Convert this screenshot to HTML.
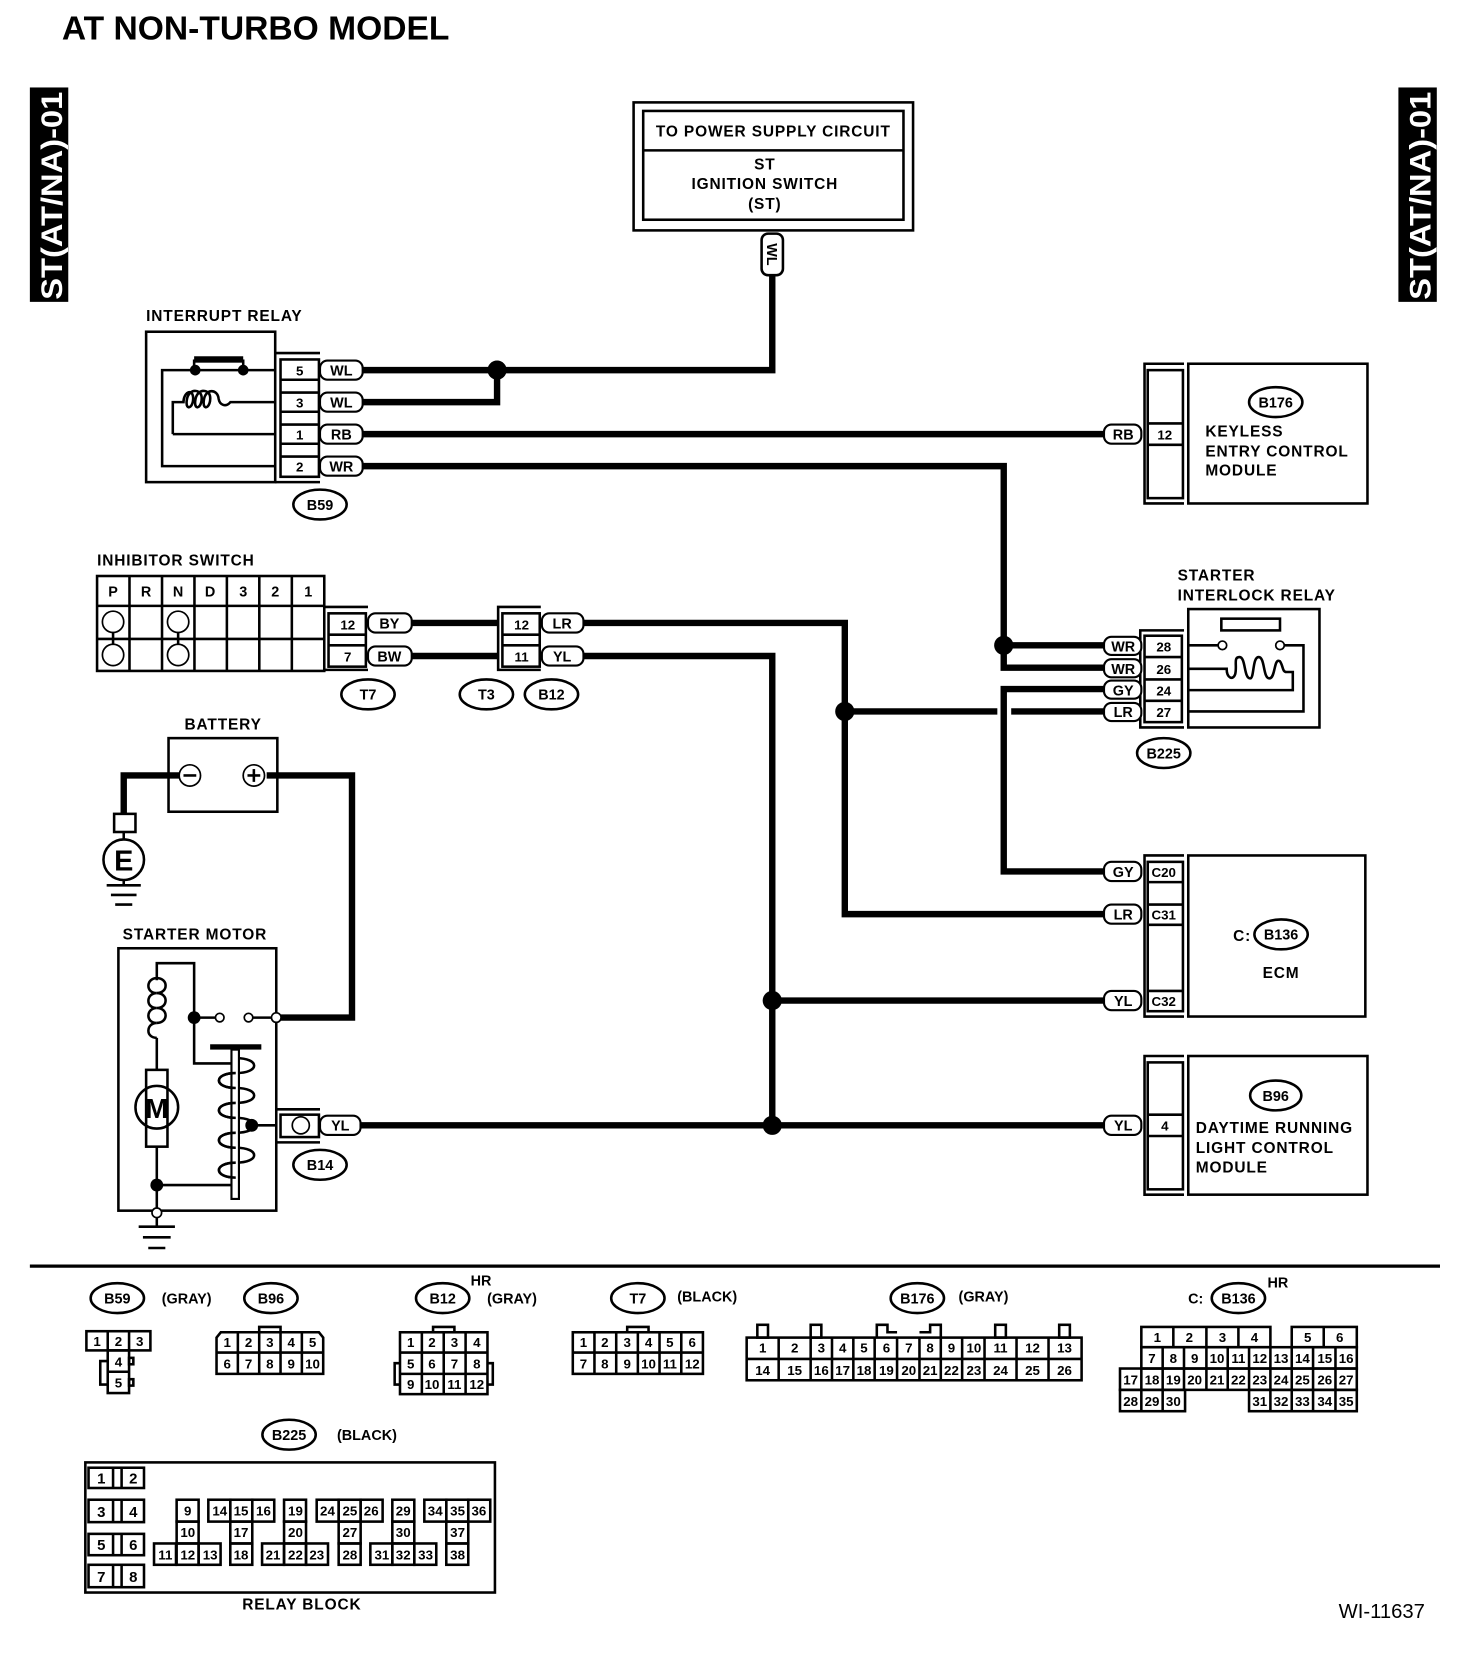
<!DOCTYPE html>
<html><head><meta charset="utf-8"><style>
html,body{margin:0;padding:0;background:#fff}
svg{display:block}
text{font-family:"Liberation Sans",sans-serif;font-weight:bold;fill:#000}
.t{font-size:14.5px;letter-spacing:0.8px}
.n{font-size:12.5px;font-weight:bold}
.tg{font-size:13.5px}
.th{fill:none;stroke:#000;stroke-width:2.4}
.w{fill:none;stroke:#000;stroke-width:6}
.c{fill:#fff;stroke:#000;stroke-width:1.6}
</style></head><body>
<svg width="1472" height="1672" viewBox="0 0 1380 1567.5" xmlns="http://www.w3.org/2000/svg">
<!-- Title -->
<text x="58" y="37" style="font-size:31.5px">AT NON-TURBO MODEL</text>
<!-- side tabs -->
<rect x="28" y="82" width="36" height="201" fill="#000"/>
<text transform="translate(58,281) rotate(-90)" textLength="195" lengthAdjust="spacingAndGlyphs" style="font-size:28px;fill:#fff">ST(AT/NA)-01</text>
<rect x="1311" y="82" width="36" height="201" fill="#000"/>
<text transform="translate(1341,281) rotate(-90)" textLength="195" lengthAdjust="spacingAndGlyphs" style="font-size:28px;fill:#fff">ST(AT/NA)-01</text>

<!-- power supply box -->
<rect x="594" y="96" width="262" height="120" class="th" stroke-width="3"/>
<rect x="603" y="104" width="244" height="102" class="th"/>
<line x1="603" y1="141" x2="847" y2="141" class="th"/>
<text x="725" y="128" text-anchor="middle" class="t">TO POWER SUPPLY CIRCUIT</text>
<text x="717" y="159" text-anchor="middle" class="t">ST</text>
<text x="717" y="177" text-anchor="middle" class="t">IGNITION SWITCH</text>
<text x="717" y="196" text-anchor="middle" class="t">(ST)</text>
<rect x="714" y="219" width="20" height="39" rx="6" class="th" fill="#fff"/>
<text transform="translate(719,228) rotate(90)" class="tg">WL</text>

<!-- wires -->
<polyline class="w" points="724,258 724,347 340,347"/>
<polyline class="w" points="340,377 466,377 466,347"/>
<line class="w" x1="340" y1="407" x2="1035" y2="407"/>
<polyline class="w" points="340,437 941,437 941,626 1035,626"/>
<line class="w" x1="941" y1="605" x2="1035" y2="605"/>
<polyline class="w" points="1035,646 941,646 941,817 1035,817"/>
<polyline class="w" points="547,584 792,584 792,857 1035,857"/>
<line class="w" x1="792" y1="667" x2="935" y2="667"/>
<line class="w" x1="948" y1="667" x2="1035" y2="667"/>
<polyline class="w" points="547,615 724,615 724,1055"/>
<line class="w" x1="724" y1="938" x2="1035" y2="938"/>
<line class="w" x1="338" y1="1055" x2="1035" y2="1055"/>
<line class="w" x1="386" y1="584" x2="467" y2="584"/>
<line class="w" x1="386" y1="615" x2="467" y2="615"/>
<circle cx="466" cy="347" r="9"/>
<circle cx="941" cy="605" r="9"/>
<circle cx="792" cy="667" r="9"/>
<circle cx="724" cy="938" r="9"/>
<circle cx="724" cy="1055" r="9"/>

<!-- interrupt relay -->
<text x="137" y="301" class="t">INTERRUPT RELAY</text>
<rect x="137" y="311" width="121" height="141" class="th"/>
<polyline class="th" points="258,347 152,347 152,437 258,437"/>
<rect x="182" y="334" width="46" height="6" fill="#000"/>
<line class="th" x1="182" y1="337" x2="182" y2="347"/><line class="th" x1="228" y1="337" x2="228" y2="347"/>
<circle cx="183" cy="347" r="5"/><circle cx="228" cy="347" r="5"/>
<path class="th" d="M162,407 L162,377 L172,377 C172,368 180,364 181,372 C182,382 174,386 175,376 C176,364 188,364 189,372 C190,382 182,386 183,376 C184,364 196,364 197,372 C198,382 190,386 191,376 C192,364 204,364 205,374 C206,380 212,382 216,377 L258,377"/>
<line class="th" x1="162" y1="407" x2="258" y2="407"/>
<polyline class="th" points="258,331 300,331"/><polyline class="th" points="258,452 300,452"/>
<rect x="263" y="337" width="36" height="110" class="th"/>
<g class="th"><line x1="263" y1="356" x2="299" y2="356"/><line x1="263" y1="368" x2="299" y2="368"/><line x1="263" y1="386" x2="299" y2="386"/><line x1="263" y1="398" x2="299" y2="398"/><line x1="263" y1="416" x2="299" y2="416"/><line x1="263" y1="428" x2="299" y2="428"/></g>
<text x="281" y="352" text-anchor="middle" class="n">5</text>
<text x="281" y="382" text-anchor="middle" class="n">3</text>
<text x="281" y="412" text-anchor="middle" class="n">1</text>
<text x="281" y="442" text-anchor="middle" class="n">2</text>
<g fill="#fff" stroke="#000" stroke-width="2">
<rect x="300" y="338" width="40" height="18" rx="7"/><rect x="300" y="368" width="40" height="18" rx="7"/>
<rect x="300" y="398" width="40" height="18" rx="7"/><rect x="300" y="428" width="40" height="18" rx="7"/>
</g>
<text x="320" y="352" text-anchor="middle" class="tg">WL</text>
<text x="320" y="382" text-anchor="middle" class="tg">WL</text>
<text x="320" y="412" text-anchor="middle" class="tg">RB</text>
<text x="320" y="442" text-anchor="middle" class="tg">WR</text>
<ellipse cx="300" cy="473" rx="25" ry="14" class="th"/>
<text x="300" y="478" text-anchor="middle" class="tg">B59</text>

<!-- keyless -->
<g fill="#fff" stroke="#000" stroke-width="2"><rect x="1035" y="398" width="35" height="18" rx="7"/></g>
<text x="1053" y="412" text-anchor="middle" class="tg">RB</text>
<polyline class="th" points="1110,341 1073,341 1073,472 1110,472"/>
<rect x="1076" y="347" width="33" height="120" class="th"/>
<line class="th" x1="1076" y1="397" x2="1109" y2="397"/><line class="th" x1="1076" y1="417" x2="1109" y2="417"/>
<text x="1092" y="412" text-anchor="middle" class="n">12</text>
<rect x="1114" y="341" width="168" height="131" class="th"/>
<ellipse cx="1196" cy="377" rx="25" ry="14" class="th"/>
<text x="1196" y="382" text-anchor="middle" class="tg">B176</text>
<text x="1130" y="409" class="t">KEYLESS</text>
<text x="1130" y="428" class="t">ENTRY CONTROL</text>
<text x="1130" y="446" class="t">MODULE</text>

<!-- starter interlock relay -->
<text x="1104" y="544" class="t">STARTER</text>
<text x="1104" y="563" class="t">INTERLOCK RELAY</text>
<rect x="1114" y="571" width="123" height="111" class="th"/>
<rect x="1145" y="580" width="55" height="11" class="th"/>
<circle cx="1146" cy="605" r="4" class="c" stroke-width="2.4"/><circle cx="1200" cy="605" r="4" class="c" stroke-width="2.4"/>
<polyline class="th" points="1114,605 1142,605"/>
<polyline class="th" points="1204,605 1222,605 1222,667 1114,667"/>
<path class="th" d="M1114,627 L1150,627 C1150,636 1156,638 1158,632 C1160,624 1156,616 1162,616 C1168,616 1166,636 1172,636 C1176,636 1174,616 1180,616 C1186,616 1184,636 1190,636 C1196,636 1194,616 1200,620 C1203,624 1202,630 1206,630 L1212,630 L1212,647 L1114,647"/>
<polyline class="th" points="1110,591 1069,591 1069,682 1110,682"/>
<rect x="1073" y="596" width="35" height="81" class="th"/>
<g class="th"><line x1="1073" y1="616" x2="1108" y2="616"/><line x1="1073" y1="637" x2="1108" y2="637"/><line x1="1073" y1="657" x2="1108" y2="657"/></g>
<text x="1091" y="611" text-anchor="middle" class="n">28</text>
<text x="1091" y="632" text-anchor="middle" class="n">26</text>
<text x="1091" y="652" text-anchor="middle" class="n">24</text>
<text x="1091" y="672" text-anchor="middle" class="n">27</text>
<g fill="#fff" stroke="#000" stroke-width="2">
<rect x="1035" y="597" width="35" height="17" rx="7"/><rect x="1035" y="618" width="35" height="17" rx="7"/>
<rect x="1035" y="638" width="35" height="17" rx="7"/><rect x="1035" y="659" width="35" height="17" rx="7"/>
</g>
<text x="1053" y="611" text-anchor="middle" class="tg">WR</text>
<text x="1053" y="632" text-anchor="middle" class="tg">WR</text>
<text x="1053" y="652" text-anchor="middle" class="tg">GY</text>
<text x="1053" y="672" text-anchor="middle" class="tg">LR</text>
<ellipse cx="1091" cy="706" rx="25" ry="14" class="th"/>
<text x="1091" y="711" text-anchor="middle" class="tg">B225</text>

<!-- ECM -->
<polyline class="th" points="1110,802 1073,802 1073,953 1110,953"/>
<rect x="1076" y="808" width="33" height="140" class="th"/>
<g class="th"><line x1="1076" y1="827" x2="1109" y2="827"/><line x1="1076" y1="848" x2="1109" y2="848"/><line x1="1076" y1="867" x2="1109" y2="867"/><line x1="1076" y1="929" x2="1109" y2="929"/></g>
<text x="1091" y="822" text-anchor="middle" class="n">C20</text>
<text x="1091" y="862" text-anchor="middle" class="n">C31</text>
<text x="1091" y="943" text-anchor="middle" class="n">C32</text>
<rect x="1114" y="802" width="166" height="151" class="th"/>
<g fill="#fff" stroke="#000" stroke-width="2">
<rect x="1035" y="808" width="35" height="18" rx="7"/><rect x="1035" y="848" width="35" height="18" rx="7"/><rect x="1035" y="929" width="35" height="18" rx="7"/>
</g>
<text x="1053" y="822" text-anchor="middle" class="tg">GY</text>
<text x="1053" y="862" text-anchor="middle" class="tg">LR</text>
<text x="1053" y="943" text-anchor="middle" class="tg">YL</text>
<text x="1156" y="882" class="t">C:</text>
<ellipse cx="1201" cy="876" rx="25" ry="14" class="th"/>
<text x="1201" y="881" text-anchor="middle" class="tg">B136</text>
<text x="1201" y="917" text-anchor="middle" class="t">ECM</text>

<!-- DRL -->
<polyline class="th" points="1110,990 1073,990 1073,1120 1110,1120"/>
<rect x="1076" y="996" width="33" height="119" class="th"/>
<line class="th" x1="1076" y1="1045" x2="1109" y2="1045"/><line class="th" x1="1076" y1="1065" x2="1109" y2="1065"/>
<text x="1092" y="1060" text-anchor="middle" class="n">4</text>
<rect x="1114" y="990" width="168" height="130" class="th"/>
<g fill="#fff" stroke="#000" stroke-width="2"><rect x="1035" y="1046" width="35" height="18" rx="7"/></g>
<text x="1053" y="1060" text-anchor="middle" class="tg">YL</text>
<ellipse cx="1196" cy="1027" rx="24" ry="14" class="th"/>
<text x="1196" y="1032" text-anchor="middle" class="tg">B96</text>
<text x="1121" y="1062" class="t">DAYTIME RUNNING</text>
<text x="1121" y="1081" class="t">LIGHT CONTROL</text>
<text x="1121" y="1099" class="t">MODULE</text>

<!-- inhibitor switch -->
<text x="91" y="530" class="t">INHIBITOR SWITCH</text>
<rect x="91" y="540" width="213" height="89" class="th"/>
<g class="th">
<line x1="91" y1="568" x2="304" y2="568"/><line x1="91" y1="599" x2="304" y2="599"/>
<line x1="121.4" y1="540" x2="121.4" y2="629"/><line x1="151.9" y1="540" x2="151.9" y2="629"/><line x1="182.3" y1="540" x2="182.3" y2="629"/>
<line x1="212.7" y1="540" x2="212.7" y2="629"/><line x1="243.1" y1="540" x2="243.1" y2="629"/><line x1="273.6" y1="540" x2="273.6" y2="629"/>
<line x1="106" y1="590" x2="106" y2="608"/><line x1="167" y1="590" x2="167" y2="608"/>
</g>
<g class="c" stroke-width="2.2"><circle cx="106" cy="583" r="10"/><circle cx="106" cy="614" r="10"/><circle cx="167" cy="583" r="10"/><circle cx="167" cy="614" r="10"/></g>
<g class="tg" text-anchor="middle">
<text x="106" y="559">P</text><text x="137" y="559">R</text><text x="167" y="559">N</text><text x="197" y="559">D</text><text x="228" y="559">3</text><text x="258" y="559">2</text><text x="289" y="559">1</text>
</g>
<!-- T7 connector -->
<polyline class="th" points="304,569 345,569"/><polyline class="th" points="304,628 345,628"/>
<rect x="308" y="575" width="35" height="50" class="th"/>
<line class="th" x1="308" y1="595" x2="343" y2="595"/><line class="th" x1="308" y1="605" x2="343" y2="605"/>
<text x="326" y="590" text-anchor="middle" class="n">12</text>
<text x="326" y="620" text-anchor="middle" class="n">7</text>
<g fill="#fff" stroke="#000" stroke-width="2"><rect x="345" y="575" width="41" height="18" rx="7"/><rect x="345" y="606" width="41" height="18" rx="7"/></g>
<text x="365" y="589" text-anchor="middle" class="tg">BY</text>
<text x="365" y="620" text-anchor="middle" class="tg">BW</text>
<!-- B12 connector -->
<polyline class="th" points="507,569 467,569 467,628 507,628"/>
<rect x="471" y="575" width="35" height="50" class="th"/>
<line class="th" x1="471" y1="595" x2="506" y2="595"/><line class="th" x1="471" y1="605" x2="506" y2="605"/>
<text x="489" y="590" text-anchor="middle" class="n">12</text>
<text x="489" y="620" text-anchor="middle" class="n">11</text>
<g fill="#fff" stroke="#000" stroke-width="2"><rect x="508" y="575" width="39" height="18" rx="7"/><rect x="508" y="606" width="39" height="18" rx="7"/></g>
<text x="527" y="589" text-anchor="middle" class="tg">LR</text>
<text x="527" y="620" text-anchor="middle" class="tg">YL</text>
<ellipse cx="345" cy="651" rx="25" ry="14" class="th"/><text x="345" y="656" text-anchor="middle" class="tg">T7</text>
<ellipse cx="456" cy="651" rx="25" ry="14" class="th"/><text x="456" y="656" text-anchor="middle" class="tg">T3</text>
<ellipse cx="517" cy="651" rx="25" ry="14" class="th"/><text x="517" y="656" text-anchor="middle" class="tg">B12</text>

<!-- battery -->
<text x="173" y="684" class="t">BATTERY</text>
<rect x="158" y="692" width="102" height="69" class="th"/>
<circle cx="178" cy="727" r="10" class="c" stroke-width="2.2"/><line class="th" x1="172" y1="727" x2="184" y2="727"/>
<circle cx="238" cy="727" r="10" class="c" stroke-width="2.2"/><line class="th" x1="232" y1="727" x2="244" y2="727"/><line class="th" x1="238" y1="721" x2="238" y2="733"/>
<polyline class="w" points="168,727 116,727 116,764"/>
<rect x="107" y="763" width="20" height="17" class="th" fill="#fff"/>
<line class="th" x1="116" y1="780" x2="116" y2="787"/>
<circle cx="116" cy="806" r="19" class="th" stroke-width="3"/>
<text x="116" y="816" text-anchor="middle" style="font-size:27px">E</text>
<g class="th"><line x1="116" y1="825" x2="116" y2="830"/><line x1="100" y1="830" x2="132" y2="830"/><line x1="104" y1="839" x2="128" y2="839"/><line x1="108" y1="848" x2="124" y2="848"/></g>
<polyline class="w" points="250,727 330,727 330,954 262,954"/>

<!-- starter motor -->
<text x="115" y="881" class="t">STARTER MOTOR</text>
<rect x="111" y="889" width="148" height="246" class="th"/>
<polyline class="th" points="147,919 147,903 182,903 182,997 219,997"/>
<path class="th" d="M147,917 C137,917 136,931 147,931 C137,931 136,945 147,945 C137,945 136,959 147,959 C137,959 136,973 147,973"/>
<path class="th" d="M147,917 C158,917 158,931 147,931 M147,931 C158,931 158,945 147,945 M147,945 C158,945 158,959 147,959"/>
<line class="th" x1="147" y1="973" x2="147" y2="1003"/>
<rect x="137" y="1003" width="20" height="72" class="th" fill="#fff"/>
<circle cx="147" cy="1038" r="20" class="th" stroke-width="3" fill="#fff"/>
<text x="147" y="1048" text-anchor="middle" style="font-size:26px">M</text>
<polyline class="th" points="147,1075 147,1133"/>
<line class="th" x1="147" y1="1111" x2="219" y2="1111"/>
<circle cx="147" cy="1111" r="6"/>
<circle cx="182" cy="954" r="6"/>
<line class="th" x1="182" y1="954" x2="202" y2="954"/>
<circle cx="206" cy="954" r="4" class="c" stroke-width="2.2"/>
<circle cx="233" cy="954" r="4" class="c" stroke-width="2.2"/>
<line class="th" x1="237" y1="954" x2="255" y2="954"/>
<circle cx="259" cy="954" r="4.5" class="c" stroke-width="2.2"/>
<rect x="197" y="979" width="48" height="5" fill="#000"/>
<path class="th" d="M221,992 C244,992 244,1006 221,1006 C200,1006 200,1020 221,1020 C244,1020 244,1034 221,1034 C200,1034 200,1048 221,1048 C244,1048 244,1062 221,1062 C200,1062 200,1076 221,1076 C244,1076 244,1090 221,1090 C200,1090 200,1104 221,1104"/>
<rect x="217" y="984" width="7" height="140" fill="#fff" stroke="#000" stroke-width="2"/>
<path class="th" d="M221,1006 C200,1006 200,1020 221,1020 M221,1034 C200,1034 200,1048 221,1048 M221,1062 C200,1062 200,1076 221,1076 M221,1090 C200,1090 200,1104 221,1104" />
<circle cx="236" cy="1055" r="6"/>
<line class="th" x1="236" y1="1055" x2="259" y2="1055"/>
<circle cx="147" cy="1137" r="4.5" class="c" stroke-width="2.2"/>
<g class="th"><line x1="147" y1="1141" x2="147" y2="1150"/><line x1="130" y1="1150" x2="164" y2="1150"/><line x1="134" y1="1160" x2="160" y2="1160"/><line x1="139" y1="1170" x2="155" y2="1170"/></g>
<polyline class="th" points="259,1040 300,1040"/><polyline class="th" points="259,1071 300,1071"/>
<rect x="263" y="1045" width="36" height="21" class="th"/>
<circle cx="282" cy="1055" r="8" class="c" stroke-width="2.2"/>
<g fill="#fff" stroke="#000" stroke-width="2"><rect x="300" y="1046" width="38" height="18" rx="7"/></g>
<text x="319" y="1060" text-anchor="middle" class="tg">YL</text>
<ellipse cx="300" cy="1092" rx="25" ry="14" class="th"/><text x="300" y="1097" text-anchor="middle" class="tg">B14</text>

<!-- divider -->
<line x1="28" y1="1187" x2="1350" y2="1187" stroke="#000" stroke-width="3"/>

<!-- bottom connectors -->
<g class="n" text-anchor="middle">
<!-- B59 -->
<ellipse cx="110" cy="1217" rx="25" ry="14" class="th"/><text x="110" y="1222" class="tg">B59</text>
<text x="175" y="1222" class="tg">(GRAY)</text>
<g class="th" stroke-width="1.6"><rect x="81" y="1248" width="60" height="18"/><line x1="101" y1="1248" x2="101" y2="1266"/><line x1="121" y1="1248" x2="121" y2="1266"/>
<rect x="101" y="1266" width="20" height="40"/><line x1="101" y1="1286" x2="121" y2="1286"/>
<polyline points="101,1276 94,1276 94,1298 101,1298"/><rect x="121" y="1273" width="4" height="6"/><rect x="121" y="1293" width="4" height="6"/></g>
<text x="91" y="1262">1</text><text x="111" y="1262">2</text><text x="131" y="1262">3</text><text x="111" y="1281">4</text><text x="111" y="1301">5</text>
<!-- B96 -->
<ellipse cx="254" cy="1217" rx="25" ry="14" class="th"/><text x="254" y="1222" class="tg">B96</text>
<g class="th" stroke-width="1.6"><path d="M207,1249 L299,1249 L303,1254 L303,1288 L203,1288 L203,1254 Z"/><line x1="203" y1="1268" x2="303" y2="1268"/>
<line x1="223" y1="1249" x2="223" y2="1288"/><line x1="243" y1="1249" x2="243" y2="1288"/><line x1="263" y1="1249" x2="263" y2="1288"/><line x1="283" y1="1249" x2="283" y2="1288"/>
<polyline points="243,1249 243,1244 263,1244 263,1249"/></g>
<text x="213" y="1263">1</text><text x="233" y="1263">2</text><text x="253" y="1263">3</text><text x="273" y="1263">4</text><text x="293" y="1263">5</text>
<text x="213" y="1283">6</text><text x="233" y="1283">7</text><text x="253" y="1283">8</text><text x="273" y="1283">9</text><text x="293" y="1283">10</text>
<!-- B12 -->
<ellipse cx="415" cy="1217" rx="25" ry="14" class="th"/><text x="415" y="1222" class="tg">B12</text>
<text x="451" y="1205" class="tg">HR</text><text x="480" y="1222" class="tg">(GRAY)</text>
<g class="th" stroke-width="1.6"><rect x="375" y="1249" width="82" height="58"/><line x1="375" y1="1268" x2="457" y2="1268"/><line x1="375" y1="1288" x2="457" y2="1288"/>
<line x1="395.5" y1="1249" x2="395.5" y2="1307"/><line x1="416" y1="1249" x2="416" y2="1307"/><line x1="436.5" y1="1249" x2="436.5" y2="1307"/>
<polyline points="406,1249 406,1244 426,1244 426,1249"/><polyline points="375,1278 370,1278 370,1298 375,1298"/><polyline points="457,1278 462,1278 462,1298 457,1298"/></g>
<text x="385" y="1263">1</text><text x="405" y="1263">2</text><text x="426" y="1263">3</text><text x="447" y="1263">4</text>
<text x="385" y="1283">5</text><text x="405" y="1283">6</text><text x="426" y="1283">7</text><text x="447" y="1283">8</text>
<text x="385" y="1302">9</text><text x="405" y="1302">10</text><text x="426" y="1302">11</text><text x="447" y="1302">12</text>
<!-- T7 -->
<ellipse cx="598" cy="1217" rx="25" ry="14" class="th"/><text x="598" y="1222" class="tg">T7</text>
<text x="663" y="1220" class="tg">(BLACK)</text>
<g class="th" stroke-width="1.6"><rect x="537" y="1249" width="122" height="39"/><line x1="537" y1="1268" x2="659" y2="1268"/>
<line x1="557.3" y1="1249" x2="557.3" y2="1288"/><line x1="577.7" y1="1249" x2="577.7" y2="1288"/><line x1="598" y1="1249" x2="598" y2="1288"/><line x1="618.3" y1="1249" x2="618.3" y2="1288"/><line x1="638.7" y1="1249" x2="638.7" y2="1288"/>
<polyline points="588,1249 588,1244 608,1244 608,1249"/></g>
<text x="547" y="1263">1</text><text x="567" y="1263">2</text><text x="588" y="1263">3</text><text x="608" y="1263">4</text><text x="628" y="1263">5</text><text x="649" y="1263">6</text>
<text x="547" y="1283">7</text><text x="567" y="1283">8</text><text x="588" y="1283">9</text><text x="608" y="1283">10</text><text x="628" y="1283">11</text><text x="649" y="1283">12</text>
<!-- B176 -->
<ellipse cx="860" cy="1217" rx="25" ry="14" class="th"/><text x="860" y="1222" class="tg">B176</text>
<text x="922" y="1220" class="tg">(GRAY)</text>
<g class="th" stroke-width="1.6"><rect x="700" y="1254" width="314" height="40"/><line x1="700" y1="1274" x2="1014" y2="1274"/>
<line x1="730" y1="1254" x2="730" y2="1294"/><line x1="760" y1="1254" x2="760" y2="1294"/><line x1="780" y1="1254" x2="780" y2="1294"/><line x1="800" y1="1254" x2="800" y2="1294"/><line x1="820" y1="1254" x2="820" y2="1294"/><line x1="841" y1="1254" x2="841" y2="1294"/><line x1="862" y1="1254" x2="862" y2="1294"/><line x1="882" y1="1254" x2="882" y2="1294"/><line x1="902" y1="1254" x2="902" y2="1294"/><line x1="923" y1="1254" x2="923" y2="1294"/><line x1="953" y1="1254" x2="953" y2="1294"/><line x1="983" y1="1254" x2="983" y2="1294"/>
<rect x="710" y="1242" width="10" height="12"/><rect x="760" y="1242" width="10" height="12"/><rect x="933" y="1242" width="10" height="12"/><rect x="993" y="1242" width="10" height="12"/>
<polyline points="822,1254 822,1242 832,1242 832,1249 841,1249"/><polyline points="862,1249 872,1249 872,1242 882,1242 882,1254"/></g>
<text x="715" y="1268">1</text><text x="745" y="1268">2</text><text x="770" y="1268">3</text><text x="790" y="1268">4</text><text x="810" y="1268">5</text><text x="831" y="1268">6</text><text x="852" y="1268">7</text><text x="872" y="1268">8</text><text x="892" y="1268">9</text><text x="913" y="1268">10</text><text x="938" y="1268">11</text><text x="968" y="1268">12</text><text x="998" y="1268">13</text>
<text x="715" y="1289">14</text><text x="745" y="1289">15</text><text x="770" y="1289">16</text><text x="790" y="1289">17</text><text x="810" y="1289">18</text><text x="831" y="1289">19</text><text x="852" y="1289">20</text><text x="872" y="1289">21</text><text x="892" y="1289">22</text><text x="913" y="1289">23</text><text x="938" y="1289">24</text><text x="968" y="1289">25</text><text x="998" y="1289">26</text>
<!-- B136 -->
<text x="1121" y="1222" class="tg">C:</text>
<ellipse cx="1161" cy="1217" rx="25" ry="14" class="th"/><text x="1161" y="1222" class="tg">B136</text>
<text x="1198" y="1207" class="tg">HR</text>
<g class="th" stroke-width="1.6">
<rect x="1070" y="1244" width="121" height="19"/><line x1="1100" y1="1244" x2="1100" y2="1263"/><line x1="1131" y1="1244" x2="1131" y2="1263"/><line x1="1161" y1="1244" x2="1161" y2="1263"/>
<rect x="1211" y="1244" width="61" height="19"/><line x1="1241" y1="1244" x2="1241" y2="1263"/>
<rect x="1070" y="1263" width="202" height="20"/>
<rect x="1050" y="1283" width="222" height="20"/>
<rect x="1050" y="1303" width="61" height="20"/><rect x="1171" y="1303" width="101" height="20"/>
<line x1="1090" y1="1263" x2="1090" y2="1323"/><line x1="1110" y1="1263" x2="1110" y2="1303"/><line x1="1131" y1="1263" x2="1131" y2="1303"/><line x1="1151" y1="1263" x2="1151" y2="1303"/><line x1="1171" y1="1263" x2="1171" y2="1303"/><line x1="1191" y1="1263" x2="1191" y2="1323"/><line x1="1211" y1="1263" x2="1211" y2="1323"/><line x1="1231" y1="1263" x2="1231" y2="1323"/><line x1="1252" y1="1263" x2="1252" y2="1323"/><line x1="1070" y1="1283" x2="1070" y2="1323"/>
</g>
<text x="1085" y="1258">1</text><text x="1115" y="1258">2</text><text x="1146" y="1258">3</text><text x="1176" y="1258">4</text><text x="1226" y="1258">5</text><text x="1256" y="1258">6</text>
<text x="1080" y="1278">7</text><text x="1100" y="1278">8</text><text x="1120" y="1278">9</text><text x="1141" y="1278">10</text><text x="1161" y="1278">11</text><text x="1181" y="1278">12</text><text x="1201" y="1278">13</text><text x="1221" y="1278">14</text><text x="1242" y="1278">15</text><text x="1262" y="1278">16</text>
<text x="1060" y="1298">17</text><text x="1080" y="1298">18</text><text x="1100" y="1298">19</text><text x="1120" y="1298">20</text><text x="1141" y="1298">21</text><text x="1161" y="1298">22</text><text x="1181" y="1298">23</text><text x="1201" y="1298">24</text><text x="1221" y="1298">25</text><text x="1242" y="1298">26</text><text x="1262" y="1298">27</text>
<text x="1060" y="1318">28</text><text x="1080" y="1318">29</text><text x="1100" y="1318">30</text><text x="1181" y="1318">31</text><text x="1201" y="1318">32</text><text x="1221" y="1318">33</text><text x="1242" y="1318">34</text><text x="1262" y="1318">35</text>
<!-- B225 relay block -->
<ellipse cx="271" cy="1345" rx="25" ry="14" class="th"/><text x="271" y="1350" class="tg">B225</text>
<text x="344" y="1350" class="tg">(BLACK)</text>
<rect x="80" y="1371" width="384" height="122" class="th"/>
<g class="th" stroke-width="2">
<rect x="83" y="1376" width="52" height="19"/><rect x="83" y="1406" width="52" height="21"/><rect x="83" y="1438" width="52" height="20"/><rect x="83" y="1467" width="52" height="21"/>
<line x1="106" y1="1376" x2="106" y2="1395"/><line x1="114" y1="1376" x2="114" y2="1395"/>
<line x1="106" y1="1406" x2="106" y2="1427"/><line x1="114" y1="1406" x2="114" y2="1427"/>
<line x1="106" y1="1438" x2="106" y2="1458"/><line x1="114" y1="1438" x2="114" y2="1458"/>
<line x1="106" y1="1467" x2="106" y2="1488"/><line x1="114" y1="1467" x2="114" y2="1488"/>
</g>
<g class="th" stroke-width="1.4">
<rect x="165.6" y="1406" width="20.6" height="20.5"/><rect x="165.6" y="1426.5" width="20.6" height="20.5"/><rect x="144.4" y="1447" width="20.6" height="20"/><rect x="165.6" y="1447" width="20.6" height="20"/><rect x="186.2" y="1447" width="20.6" height="20"/>
<rect x="195.3" y="1406" width="20.6" height="20.5"/><rect x="215.9" y="1406" width="20.6" height="20.5"/><rect x="236.5" y="1406" width="20.6" height="20.5"/><rect x="215.9" y="1426.5" width="20.6" height="20.5"/><rect x="215.9" y="1447" width="20.6" height="20"/>
<rect x="266.3" y="1406" width="20.6" height="20.5"/><rect x="266.3" y="1426.5" width="20.6" height="20.5"/><rect x="245.7" y="1447" width="20.6" height="20"/><rect x="266.3" y="1447" width="20.6" height="20"/><rect x="286.9" y="1447" width="20.6" height="20"/>
<rect x="296.9" y="1406" width="20.6" height="20.5"/><rect x="317.5" y="1406" width="20.6" height="20.5"/><rect x="338.1" y="1406" width="20.6" height="20.5"/><rect x="317.5" y="1426.5" width="20.6" height="20.5"/><rect x="317.5" y="1447" width="20.6" height="20"/>
<rect x="367.8" y="1406" width="20.6" height="20.5"/><rect x="367.8" y="1426.5" width="20.6" height="20.5"/><rect x="347.2" y="1447" width="20.6" height="20"/><rect x="367.8" y="1447" width="20.6" height="20"/><rect x="388.4" y="1447" width="20.6" height="20"/>
<rect x="397.8" y="1406" width="20.6" height="20.5"/><rect x="418.4" y="1406" width="20.6" height="20.5"/><rect x="439" y="1406" width="20.6" height="20.5"/><rect x="418.4" y="1426.5" width="20.6" height="20.5"/><rect x="418.4" y="1447" width="20.6" height="20"/>
</g>
<g style="font-size:14px">
<text x="95" y="1391">1</text><text x="125" y="1391">2</text><text x="95" y="1422">3</text><text x="125" y="1422">4</text><text x="95" y="1453">5</text><text x="125" y="1453">6</text><text x="95" y="1483">7</text><text x="125" y="1483">8</text>
</g>
<text x="176" y="1421">9</text><text x="176" y="1441">10</text><text x="155" y="1462">11</text><text x="176" y="1462">12</text><text x="197" y="1462">13</text>
<text x="206" y="1421">14</text><text x="226" y="1421">15</text><text x="247" y="1421">16</text><text x="226" y="1441">17</text><text x="226" y="1462">18</text>
<text x="277" y="1421">19</text><text x="277" y="1441">20</text><text x="256" y="1462">21</text><text x="277" y="1462">22</text><text x="297" y="1462">23</text>
<text x="307" y="1421">24</text><text x="328" y="1421">25</text><text x="348" y="1421">26</text><text x="328" y="1441">27</text><text x="328" y="1462">28</text>
<text x="378" y="1421">29</text><text x="378" y="1441">30</text><text x="358" y="1462">31</text><text x="378" y="1462">32</text><text x="399" y="1462">33</text>
<text x="408" y="1421">34</text><text x="429" y="1421">35</text><text x="449" y="1421">36</text><text x="429" y="1441">37</text><text x="429" y="1462">38</text>
<text x="283" y="1509" class="t">RELAY BLOCK</text>
</g>
<text x="1255" y="1517" style="font-size:19px;font-weight:normal">WI-11637</text>
</svg>
</body></html>
